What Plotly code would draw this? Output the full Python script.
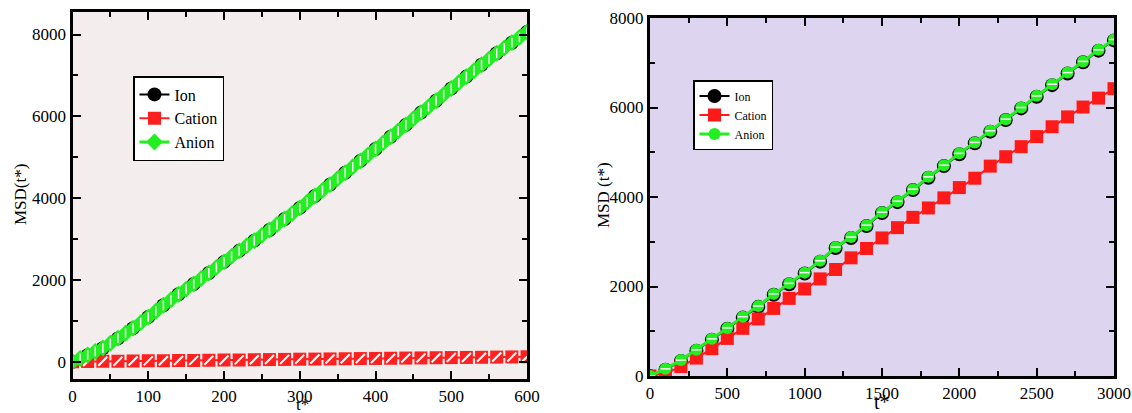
import plotly.graph_objects as go

# ---------------- data: left panel ----------------
t_left_20 = [0, 20, 40, 60, 80, 100, 120, 140, 160, 180, 200, 220, 240, 260, 280, 300,
             320, 340, 360, 380, 400, 420, 440, 460, 480, 500, 520, 540, 560, 580, 600]
ion_left = [0, 160, 330, 570, 820, 1090, 1380, 1650, 1900, 2170, 2440, 2710, 2960, 3220,
            3490, 3760, 4050, 4330, 4620, 4910, 5200, 5500, 5790, 6090, 6380, 6680, 6970,
            7260, 7540, 7800, 8060]
cation_left = [0, 5, 9, 12, 16, 21, 25, 28, 32, 37, 40, 44, 49, 52, 56, 61, 64, 68, 72, 77,
               80, 84, 89, 92, 97, 101, 104, 108, 113, 116, 121]
t_left_10 = [0, 10, 20, 30, 40, 50, 60, 70, 80, 90, 100, 110, 120, 130, 140, 150, 160, 170,
             180, 190, 200, 210, 220, 230, 240, 250, 260, 270, 280, 290, 300, 310, 320, 330,
             340, 350, 360, 370, 380, 390, 400, 410, 420, 430, 440, 450, 460, 470, 480, 490,
             500, 510, 520, 530, 540, 550, 560, 570, 580, 590, 600]
anion_left = [0, 80, 165, 250, 335, 450, 575, 695, 820, 955, 1090, 1235, 1380, 1515, 1650,
              1775, 1900, 2035, 2170, 2305, 2440, 2575, 2710, 2835, 2960, 3090, 3220, 3355,
              3490, 3625, 3760, 3905, 4050, 4190, 4330, 4475, 4620, 4765, 4910, 5055, 5200,
              5350, 5500, 5645, 5790, 5940, 6090, 6235, 6380, 6530, 6680, 6825, 6970, 7115,
              7260, 7400, 7540, 7670, 7800, 7930, 8060]

# ---------------- data: right panel ----------------
t_right = [0, 100, 200, 300, 400, 500, 600, 700, 800, 900, 1000, 1100, 1200, 1300, 1400,
           1500, 1600, 1700, 1800, 1900, 2000, 2100, 2200, 2300, 2400, 2500, 2600, 2700,
           2800, 2900, 3000]
anion_right = [0, 160, 355, 585, 830, 1075, 1325, 1565, 1835, 2070, 2310, 2575, 2880, 3105,
               3370, 3660, 3905, 4175, 4450, 4710, 4975, 5220, 5480, 5740, 6000, 6260, 6520,
               6780, 7030, 7290, 7520]
ion_right = [0, 140, 335, 565, 810, 1055, 1305, 1545, 1815, 2050, 2290, 2555, 2860, 3085,
             3350, 3640, 3885, 4155, 4430, 4690, 4955, 5200, 5460, 5720, 5980, 6240, 6500,
             6760, 7010, 7270, 7500]
cation_right = [0, 60, 210, 400, 610, 840, 1065, 1275, 1510, 1735, 1945, 2170, 2380, 2640,
                2850, 3085, 3315, 3545, 3755, 3980, 4210, 4420, 4690, 4900, 5125, 5350, 5570,
                5790, 6010, 6210, 6420]

left_xticks = [0, 100, 200, 300, 400, 500, 600]
left_yticks = [0, 2000, 4000, 6000, 8000]
right_xticks = [0, 500, 1000, 1500, 2000, 2500, 3000]
right_yticks = [0, 2000, 4000, 6000, 8000]

W, H = 1132, 413
SERIF = "Liberation Serif"

fig = go.Figure()


def px_x(p):
    return p / W


def px_y(p):
    return 1 - p / H


# ---- left traces ----
fig.add_trace(go.Scatter(x=t_left_20, y=ion_left, mode="lines+markers", name="Ion",
                         line=dict(color="black", width=2),
                         marker=dict(symbol="circle", size=14, color="black"),
                         xaxis="x", yaxis="y", legend="legend"))
fig.add_trace(go.Scatter(x=t_left_20, y=cation_left, mode="lines+markers", name="Cation",
                         line=dict(color="#ff2020", width=2),
                         marker=dict(symbol="square", size=13, color="#ff2020"),
                         xaxis="x", yaxis="y", legend="legend"))
fig.add_trace(go.Scatter(x=t_left_20, y=cation_left, mode="markers", showlegend=False,
                         marker=dict(symbol="line-ne", size=9,
                                     line=dict(color="white", width=2)),
                         xaxis="x", yaxis="y", hoverinfo="skip"))
fig.add_trace(go.Scatter(x=t_left_10, y=anion_left, mode="lines+markers", name="Anion",
                         line=dict(color="#22ee22", width=3),
                         marker=dict(symbol="diamond", size=13, color="#22ee22"),
                         xaxis="x", yaxis="y", legend="legend"))
fig.add_trace(go.Scatter(x=t_left_10, y=anion_left, mode="markers", showlegend=False,
                         marker=dict(symbol="line-ns", size=7,
                                     line=dict(color="white", width=1.5)),
                         xaxis="x", yaxis="y", hoverinfo="skip"))

# ---- right traces ----
fig.add_trace(go.Scatter(x=t_right, y=ion_right, mode="lines+markers", name="Ion",
                         line=dict(color="black", width=2),
                         marker=dict(symbol="circle", size=14, color="black"),
                         xaxis="x2", yaxis="y2", legend="legend2"))
fig.add_trace(go.Scatter(x=t_right, y=cation_right, mode="lines+markers", name="Cation",
                         line=dict(color="#ff1a1a", width=2),
                         marker=dict(symbol="square", size=13, color="#ff1a1a"),
                         xaxis="x2", yaxis="y2", legend="legend2"))
fig.add_trace(go.Scatter(x=t_right, y=anion_right, mode="lines+markers", name="Anion",
                         line=dict(color="#22ee22", width=3),
                         marker=dict(symbol="circle", size=12, color="#22ee22"),
                         xaxis="x2", yaxis="y2", legend="legend2"))
fig.add_trace(go.Scatter(x=t_right, y=anion_right, mode="markers", showlegend=False,
                         marker=dict(symbol="line-ew", size=7,
                                     line=dict(color="white", width=1.5)),
                         xaxis="x2", yaxis="y2", hoverinfo="skip"))

axis_common = dict(showline=True, linewidth=3, linecolor="black", mirror="allticks",
                   ticks="inside", ticklen=8, tickwidth=2, tickcolor="black",
                   showgrid=False, zeroline=False, automargin=False,
                   tickfont=dict(family=SERIF, size=17, color="black"))

fig.update_layout(
    width=W, height=H,
    margin=dict(l=0, r=0, t=0, b=0, pad=0, autoexpand=False),
    paper_bgcolor="white",
    font=dict(family=SERIF, color="black"),
    showlegend=True,
    xaxis=dict(domain=[px_x(72.5), px_x(527)], range=[0, 600], tickvals=left_xticks,
               minor=dict(dtick=50, ticks="inside", ticklen=5, tickwidth=2, tickcolor="black"),
               anchor="y", **axis_common),
    yaxis=dict(domain=[px_y(379), px_y(12)], range=[-423, 8550], tickvals=left_yticks,
               minor=dict(dtick=1000, ticks="inside", ticklen=5, tickwidth=2, tickcolor="black"),
               anchor="x", **axis_common),
    xaxis2=dict(domain=[px_x(650), px_x(1114)], range=[0, 3000], tickvals=right_xticks,
                minor=dict(dtick=250, ticks="inside", ticklen=5, tickwidth=2, tickcolor="black"),
                anchor="y2", **axis_common),
    yaxis2=dict(domain=[px_y(376), px_y(18)], range=[0, 8000], tickvals=right_yticks,
                minor=dict(dtick=1000, ticks="inside", ticklen=5, tickwidth=2, tickcolor="black"),
                anchor="x2", **axis_common),
    legend=dict(x=px_x(133), y=px_y(76), xanchor="left", yanchor="top",
                bgcolor="white", bordercolor="black", borderwidth=1.5,
                font=dict(family=SERIF, size=16, color="black"),
                tracegroupgap=0, itemwidth=30),
    legend2=dict(x=px_x(693), y=px_y(80), xanchor="left", yanchor="top",
                 bgcolor="white", bordercolor="black", borderwidth=1.5,
                 font=dict(family=SERIF, size=12, color="black"),
                 tracegroupgap=0, itemwidth=30),
)

# plot background tints
fig.add_shape(type="rect", xref="x domain", yref="y domain", x0=0, x1=1, y0=0, y1=1,
              fillcolor="#f3eded", line=dict(width=0), layer="below")
fig.add_shape(type="rect", xref="x2 domain", yref="y2 domain", x0=0, x1=1, y0=0, y1=1,
              fillcolor="#ddd5ef", line=dict(width=0), layer="below")

annots = [
    dict(text="MSD(t*)", x=px_x(20), y=px_y(195), textangle=-90, size=17),
    dict(text="t*", x=px_x(302), y=px_y(404), textangle=0, size=17),
    dict(text="MSD (t*)", x=px_x(603), y=px_y(195), textangle=-90, size=17),
    dict(text="t*", x=px_x(882), y=px_y(402), textangle=0, size=20),
]
for a in annots:
    fig.add_annotation(text=a["text"], x=a["x"], y=a["y"], xref="paper", yref="paper",
                       xanchor="center", yanchor="middle", showarrow=False,
                       textangle=a["textangle"],
                       font=dict(family=SERIF, size=a["size"], color="black"))

fig.write_html("out.html")
